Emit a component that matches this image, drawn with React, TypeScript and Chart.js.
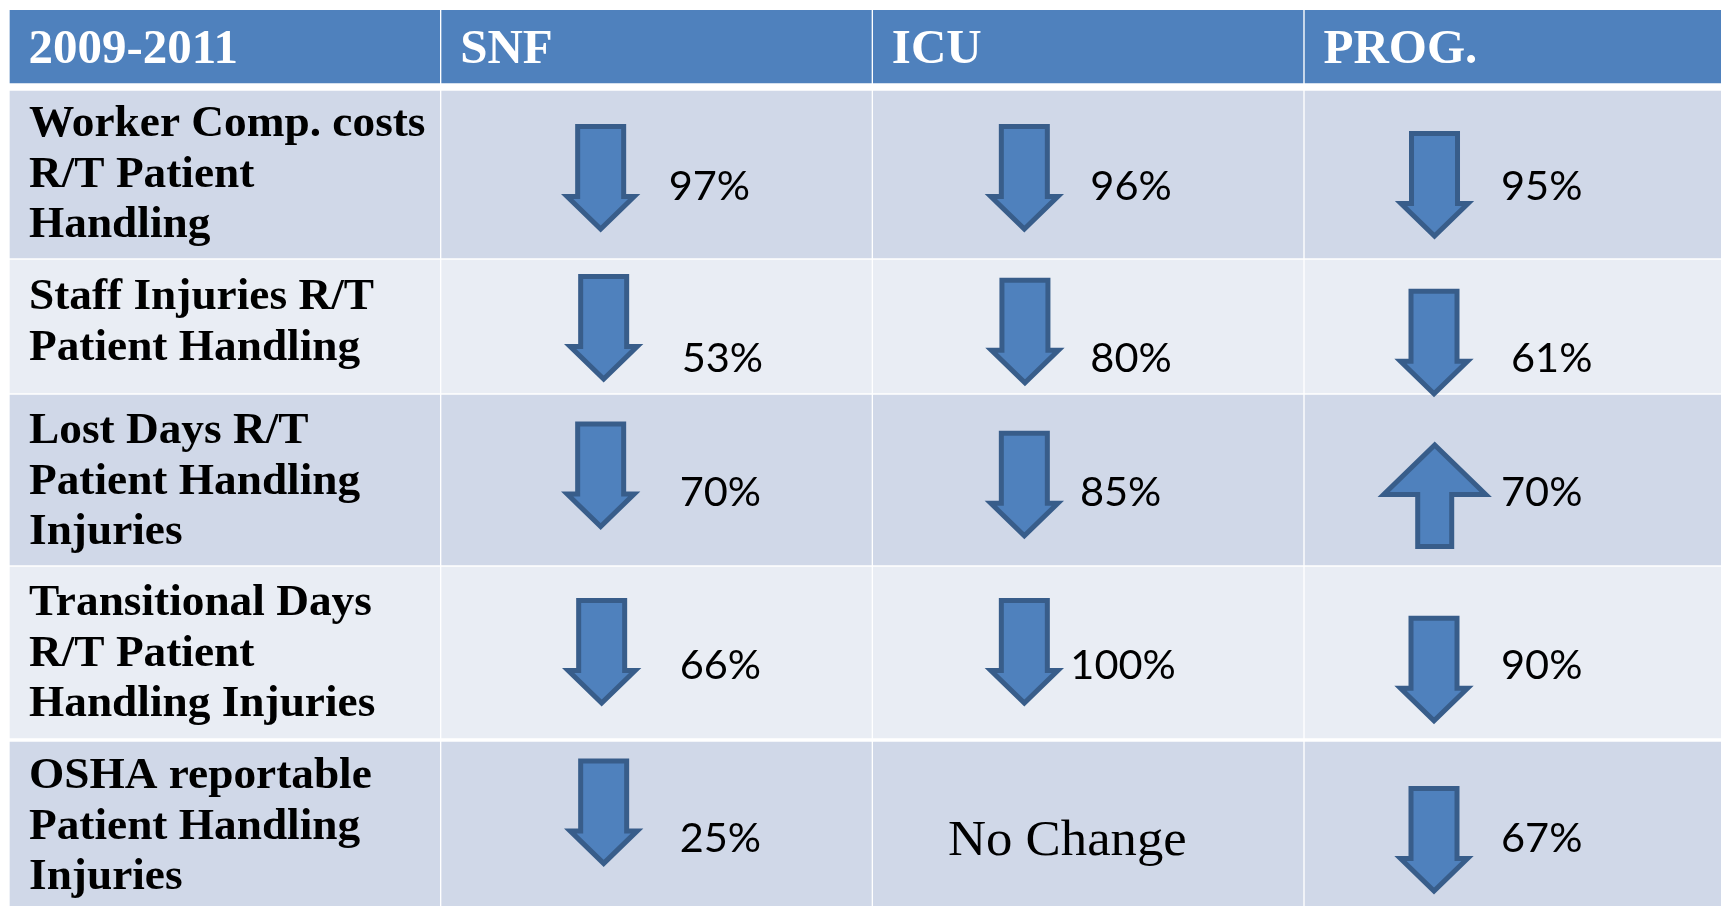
import React, { useEffect, useRef } from "react";
import { Chart, registerables } from "chart.js";

Chart.register(...registerables);

// ---------------- data ----------------
const columnHeaders = ["2009-2011", "SNF", "ICU", "PROG."];
const measureLabels = [
  ["Worker Comp. costs", "R/T Patient", "Handling"],
  ["Staff Injuries R/T", "Patient Handling"],
  ["Lost Days R/T", "Patient Handling", "Injuries"],
  ["Transitional Days", "R/T Patient", "Handling Injuries"],
  ["OSHA reportable", "Patient Handling", "Injuries"],
];
// signed % change 2009-2011 (negative = decrease, 0 = no change)
const snfChange = [-97, -53, -70, -66, -25];
const icuChange = [-96, -80, -85, -100, 0];
const progChange = [-95, -61, 70, -90, -67];
const unitSeries = [snfChange, icuChange, progChange];
const noChangeText = "No Change";

// ---------------- layout / style ----------------
const CANVAS_W = 1721;
const CANVAS_H = 906;
const PAD_LEFT = 9;
const PAD_TOP = 10;
const X_MAX = 3.466; // last column runs past the right edge
const Y_MAX = 896;
// row heights on the y scale (header + 5 rows)
const ROW_SPANS = [77, 172, 135, 172, 174, 166];
// [top, bottom] white border of each row
const ROW_BORDERS = [
  [0, 4],
  [4, 1],
  [1, 1],
  [1, 1],
  [1, 2],
  [2, 0],
];
const HEADER_BG = "#4F81BD";
const ROW_BG_DARK = "#D0D8E8";
const ROW_BG_LIGHT = "#E9EDF4";
const ARROW_FILL = "#4F81BD";
const ARROW_STROKE = "#385D8A";
const ARROW_LW = 5;

const HEADER_FONT = "bold 49px 'Liberation Serif'";
const LABEL_FONT = "bold 44px 'Liberation Serif'";
const LABEL_STRETCH = 1.03;
const PCT_FONT = "41.5px Lato";
const NOCHANGE_FONT = "50px 'Liberation Serif'";
const NOCHANGE_STRETCH = 1.055;

const HEADER_TEXT_X = 18.5;
const HEADER_BASELINE = 53;
const LABEL_TEXT_X = 19;
const LABEL_BASELINES = [45, 49, 48, 48, 46];
const LABEL_LINE_GAP = 50.5;
const PCT_BASELINES = [109, 112, 111, 112, 110];
const NOCHANGE_BASELINE = 113;

// per cell [arrow centre x, arrow top, text left] relative to cell's visible top-left
const CELL_LAYOUT = [
  [[159, 33, 227], [151, 33, 217], [129.5, 40, 196]],
  [[162, 14, 240], [151.6, 17.7, 217], [129, 28.7, 206]],
  [[159, 26.5, 238], [151, 35.7, 206.6], [129.7, 46, 196]],
  [[160, 31, 238], [151, 31, 197], [129, 48.8, 196]],
  [[162, 16.4, 238], [0, 0, 74.6], [129, 44, 196]],
];
// arrow outline dims (w = head width before miter overshoot)
const DOWN_ARROW = { w: 72, sw: 51, h: 109, hh: 39 };
const UP_ARROW = { w: 107, sw: 39, h: 108, hh: 56 };

function drawText(
  ctx: CanvasRenderingContext2D,
  text: string,
  x: number,
  y: number,
  stretch: number,
) {
  ctx.save();
  ctx.translate(x, y);
  ctx.scale(stretch, 1);
  ctx.fillText(text, 0, 0);
  ctx.restore();
}

function drawArrow(
  ctx: CanvasRenderingContext2D,
  cx: number,
  top: number,
  up: boolean,
) {
  const d = up ? UP_ARROW : DOWN_ARROW;
  const i = ARROW_LW / 2;
  const sx0 = cx - d.sw / 2 + i;
  const sx1 = cx + d.sw / 2 - i;
  const hx0 = cx - d.w / 2 + i;
  const hx1 = cx + d.w / 2 - i;
  ctx.beginPath();
  if (!up) {
    const yTop = top + i;
    const yHead = top + d.h - d.hh + i;
    const yTip = top + d.h - 4;
    ctx.moveTo(sx0, yTop);
    ctx.lineTo(sx1, yTop);
    ctx.lineTo(sx1, yHead);
    ctx.lineTo(hx1, yHead);
    ctx.lineTo(cx, yTip);
    ctx.lineTo(hx0, yHead);
    ctx.lineTo(sx0, yHead);
  } else {
    const yBot = top + d.h - i;
    const yHead = top + d.hh - i;
    const yTip = top + 4;
    ctx.moveTo(sx0, yBot);
    ctx.lineTo(sx1, yBot);
    ctx.lineTo(sx1, yHead);
    ctx.lineTo(hx1, yHead);
    ctx.lineTo(cx, yTip);
    ctx.lineTo(hx0, yHead);
    ctx.lineTo(sx0, yHead);
  }
  ctx.closePath();
  ctx.fillStyle = ARROW_FILL;
  ctx.fill();
  ctx.lineWidth = ARROW_LW;
  ctx.lineJoin = "miter";
  ctx.strokeStyle = ARROW_STROKE;
  ctx.stroke();
}

const cellPlugin = {
  id: "tableCells",
  afterDatasetsDraw(chart: any) {
    const ctx: CanvasRenderingContext2D = chart.ctx;
    const cell = (r: number, c: number) => {
      const el = chart.getDatasetMeta(r).data[c];
      const p = el.getProps(["x", "y", "base", "width"], true);
      const b = ROW_BORDERS[r];
      return {
        left: p.x - p.width / 2 + 1,
        right: p.x + p.width / 2 - 1,
        top: Math.min(p.y, p.base) + b[0],
        bottom: Math.max(p.y, p.base) - b[1],
      };
    };
    ctx.save();
    ctx.textAlign = "left";
    ctx.textBaseline = "alphabetic";

    // header row
    ctx.fillStyle = "#ffffff";
    ctx.font = HEADER_FONT;
    columnHeaders.forEach((h, c) => {
      const k = cell(0, c);
      ctx.fillText(h, k.left + HEADER_TEXT_X, k.top + HEADER_BASELINE);
    });

    // measure labels
    ctx.fillStyle = "#000000";
    ctx.font = LABEL_FONT;
    measureLabels.forEach((lines, r) => {
      const k = cell(r + 1, 0);
      lines.forEach((line, li) => {
        drawText(
          ctx,
          line,
          k.left + LABEL_TEXT_X,
          k.top + LABEL_BASELINES[r] + li * LABEL_LINE_GAP,
          LABEL_STRETCH,
        );
      });
    });

    // unit cells
    unitSeries.forEach((series, u) => {
      series.forEach((v, r) => {
        const k = cell(r + 1, u + 1);
        const lay = CELL_LAYOUT[r][u];
        if (v === 0) {
          ctx.fillStyle = "#000000";
          ctx.font = NOCHANGE_FONT;
          drawText(
            ctx,
            noChangeText,
            k.left + lay[2],
            k.top + NOCHANGE_BASELINE,
            NOCHANGE_STRETCH,
          );
          return;
        }
        drawArrow(ctx, k.left + lay[0], k.top + lay[1], v > 0);
        ctx.fillStyle = "#000000";
        ctx.font = PCT_FONT;
        ctx.fillText(
          `${Math.abs(v)}%`,
          k.left + lay[2],
          k.top + PCT_BASELINES[r],
        );
      });
    });
    ctx.restore();
  },
};

export default function App() {
  const canvasRef = useRef<HTMLCanvasElement | null>(null);

  useEffect(() => {
    document.body.style.margin = "0";
    document.body.style.overflow = "hidden";
    const canvas = canvasRef.current;
    if (!canvas) return;

    const datasets = ROW_SPANS.map((span, r) => ({
      label: r === 0 ? "header" : measureLabels[r - 1].join(" "),
      data: columnHeaders.map((_, c) => ({ x: c, y: span })),
      backgroundColor:
        r === 0 ? HEADER_BG : r % 2 === 1 ? ROW_BG_DARK : ROW_BG_LIGHT,
      borderColor: "#ffffff",
      borderWidth: {
        top: ROW_BORDERS[r][0],
        bottom: ROW_BORDERS[r][1],
        left: 1,
        right: 1,
      },
      borderSkipped: false,
      barThickness: "flex",
      barPercentage: 1,
      categoryPercentage: 1,
    }));

    const chart = new Chart(canvas, {
      type: "bar",
      data: { datasets } as any,
      options: {
        animation: false,
        responsive: false,
        devicePixelRatio: 1,
        events: [],
        layout: { padding: { left: PAD_LEFT, top: PAD_TOP, right: 0, bottom: 0 } },
        plugins: {
          legend: { display: false },
          tooltip: { enabled: false },
        },
        scales: {
          x: {
            type: "linear",
            min: -0.5,
            max: X_MAX,
            stacked: true,
            display: false,
            offset: false,
          },
          y: {
            type: "linear",
            min: 0,
            max: Y_MAX,
            reverse: true,
            stacked: true,
            display: false,
          },
        },
      } as any,
      plugins: [cellPlugin],
    });
    return () => chart.destroy();
  }, []);

  return (
    <div style={{ width: CANVAS_W, height: CANVAS_H, background: "#ffffff" }}>
      <canvas
        ref={canvasRef}
        width={CANVAS_W}
        height={CANVAS_H}
        style={{ display: "block", width: CANVAS_W, height: CANVAS_H }}
      />
    </div>
  );
}
